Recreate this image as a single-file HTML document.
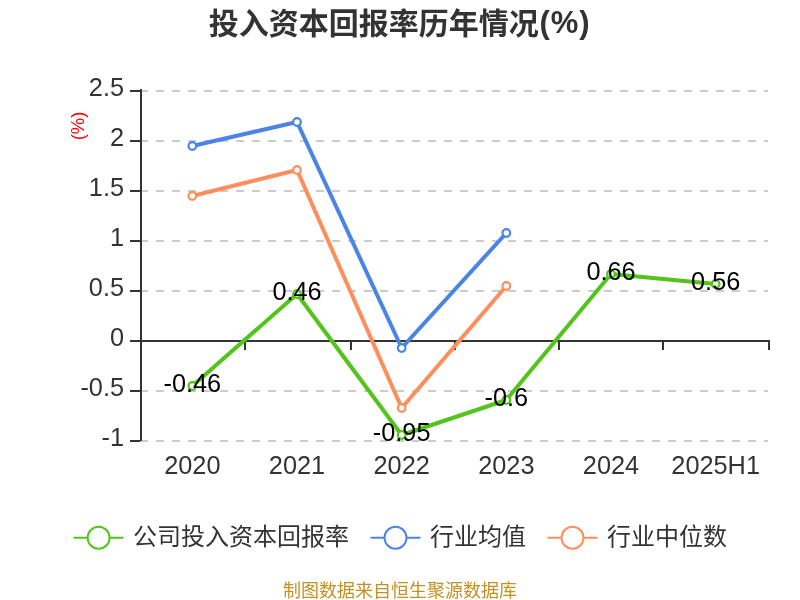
<!DOCTYPE html>
<html lang="zh-CN"><head><meta charset="utf-8"><title>投入资本回报率历年情况(%)</title>
<style>
html,body{margin:0;padding:0;background:#fff;}
body{width:800px;height:600px;overflow:hidden;font-family:"Liberation Sans", "Noto Sans CJK SC", sans-serif;}
svg{display:block;}
svg text{font-family:"Liberation Sans", "Noto Sans CJK SC", sans-serif;}
.title{font-size:30px;font-weight:bold;fill:#333;text-anchor:middle;}
.ylab{font-size:25.3px;fill:#333;text-anchor:end;}
.xlab{font-size:25.3px;fill:#333;text-anchor:middle;}
.dlab{font-size:25.3px;fill:#000;text-anchor:middle;}
.leg{font-size:24px;fill:#333;}
.foot{font-size:18px;fill:#c39024;text-anchor:middle;}
.unit{font-size:18.5px;fill:#f00;text-anchor:middle;}
</style></head><body>
<svg width="800" height="600" viewBox="0 0 800 600">
<rect x="0" y="0" width="800" height="600" fill="#fff"/>
<text class="title" x="208.7" y="34" style="text-anchor:start">投入资本回报率历年情况<tspan dy="-1.5" dx="0.8" style="font-size:31px;letter-spacing:0.9px">(%)</tspan></text>
<g stroke="#ccc" stroke-width="2" stroke-dasharray="8 8" fill="none">
<line x1="140.0" y1="91.0" x2="768.0" y2="91.0"/>
<line x1="140.0" y1="141.0" x2="768.0" y2="141.0"/>
<line x1="140.0" y1="191.0" x2="768.0" y2="191.0"/>
<line x1="140.0" y1="241.0" x2="768.0" y2="241.0"/>
<line x1="140.0" y1="291.0" x2="768.0" y2="291.0"/>
<line x1="140.0" y1="391.0" x2="768.0" y2="391.0"/>
<line x1="140.0" y1="441.0" x2="768.0" y2="441.0"/>
</g>
<g stroke="#333" stroke-width="2" fill="none">
<line x1="141.0" y1="89" x2="141.0" y2="441"/>
<line x1="140.0" y1="341" x2="770.0" y2="341"/>
<line x1="130.0" y1="91.0" x2="140.0" y2="91.0"/>
<line x1="130.0" y1="141.0" x2="140.0" y2="141.0"/>
<line x1="130.0" y1="191.0" x2="140.0" y2="191.0"/>
<line x1="130.0" y1="241.0" x2="140.0" y2="241.0"/>
<line x1="130.0" y1="291.0" x2="140.0" y2="291.0"/>
<line x1="130.0" y1="341.0" x2="140.0" y2="341.0"/>
<line x1="130.0" y1="391.0" x2="140.0" y2="391.0"/>
<line x1="130.0" y1="441.0" x2="140.0" y2="441.0"/>
<line x1="245.0" y1="340" x2="245.0" y2="350"/>
<line x1="351.0" y1="340" x2="351.0" y2="350"/>
<line x1="455.0" y1="340" x2="455.0" y2="350"/>
<line x1="559.0" y1="340" x2="559.0" y2="350"/>
<line x1="663.0" y1="340" x2="663.0" y2="350"/>
<line x1="769.0" y1="340" x2="769.0" y2="350"/>
</g>
<text class="ylab" x="124" y="96.0">2.5</text>
<text class="ylab" x="124" y="146.0">2</text>
<text class="ylab" x="124" y="196.0">1.5</text>
<text class="ylab" x="124" y="246.0">1</text>
<text class="ylab" x="124" y="296.0">0.5</text>
<text class="ylab" x="124" y="346.0">0</text>
<text class="ylab" x="124" y="396.0">-0.5</text>
<text class="ylab" x="124" y="446.0">-1</text>
<text class="xlab" x="192.33" y="474">2020</text>
<text class="xlab" x="297.00" y="474">2021</text>
<text class="xlab" x="401.67" y="474">2022</text>
<text class="xlab" x="506.33" y="474">2023</text>
<text class="xlab" x="611.00" y="474">2024</text>
<text class="xlab" x="715.67" y="474">2025H1</text>
<text class="unit" transform="translate(84.1,125.9) rotate(-90)">(%)</text>
<polyline points="192.33,386.0 297.00,294.0 401.67,435.0 506.33,400.0 611.00,274.0 715.67,284.0" fill="none" stroke="#52c41a" stroke-width="4" stroke-linejoin="bevel"/>
<circle cx="192.33" cy="386.0" r="3.8" fill="#fff" stroke="#52c41a" stroke-width="2.2"/>
<circle cx="297.00" cy="294.0" r="3.8" fill="#fff" stroke="#52c41a" stroke-width="2.2"/>
<circle cx="401.67" cy="435.0" r="3.8" fill="#fff" stroke="#52c41a" stroke-width="2.2"/>
<circle cx="506.33" cy="400.0" r="3.8" fill="#fff" stroke="#52c41a" stroke-width="2.2"/>
<circle cx="611.00" cy="274.0" r="3.8" fill="#fff" stroke="#52c41a" stroke-width="2.2"/>
<circle cx="715.67" cy="284.0" r="3.8" fill="#fff" stroke="#52c41a" stroke-width="2.2"/>
<polyline points="192.33,146.0 297.00,122.0 401.67,348.0 506.33,233.0" fill="none" stroke="#4b84e6" stroke-width="4" stroke-linejoin="bevel"/>
<circle cx="192.33" cy="146.0" r="3.8" fill="#fff" stroke="#4b84e6" stroke-width="2.2"/>
<circle cx="297.00" cy="122.0" r="3.8" fill="#fff" stroke="#4b84e6" stroke-width="2.2"/>
<circle cx="401.67" cy="348.0" r="3.8" fill="#fff" stroke="#4b84e6" stroke-width="2.2"/>
<circle cx="506.33" cy="233.0" r="3.8" fill="#fff" stroke="#4b84e6" stroke-width="2.2"/>
<polyline points="192.33,196.0 297.00,170.0 401.67,408.0 506.33,286.0" fill="none" stroke="#ff8e5c" stroke-width="4" stroke-linejoin="bevel"/>
<circle cx="192.33" cy="196.0" r="3.8" fill="#fff" stroke="#ff8e5c" stroke-width="2.2"/>
<circle cx="297.00" cy="170.0" r="3.8" fill="#fff" stroke="#ff8e5c" stroke-width="2.2"/>
<circle cx="401.67" cy="408.0" r="3.8" fill="#fff" stroke="#ff8e5c" stroke-width="2.2"/>
<circle cx="506.33" cy="286.0" r="3.8" fill="#fff" stroke="#ff8e5c" stroke-width="2.2"/>
<text class="dlab" x="192.33" y="392.0">-0.46</text>
<text class="dlab" x="297.00" y="300.0">0.46</text>
<text class="dlab" x="401.67" y="441.0">-0.95</text>
<text class="dlab" x="506.33" y="406.0">-0.6</text>
<text class="dlab" x="611.00" y="280.0">0.66</text>
<text class="dlab" x="715.67" y="290.0">0.56</text>
<line x1="73.6" y1="537.7" x2="123.6" y2="537.7" stroke="#52c41a" stroke-width="2"/>
<circle cx="98.6" cy="537.7" r="11" fill="#fff" stroke="#52c41a" stroke-width="2"/>
<text class="leg" x="133.0" y="545">公司投入资本回报率</text>
<line x1="370.5" y1="537.7" x2="420.5" y2="537.7" stroke="#4b84e6" stroke-width="2"/>
<circle cx="395.5" cy="537.7" r="11" fill="#fff" stroke="#4b84e6" stroke-width="2"/>
<text class="leg" x="429.9" y="545">行业均值</text>
<line x1="547.5" y1="537.7" x2="597.5" y2="537.7" stroke="#ff8e5c" stroke-width="2"/>
<circle cx="572.5" cy="537.7" r="11" fill="#fff" stroke="#ff8e5c" stroke-width="2"/>
<text class="leg" x="606.9" y="545">行业中位数</text>
<text class="foot" x="400" y="597">制图数据来自恒生聚源数据库</text>
</svg>
</body></html>
